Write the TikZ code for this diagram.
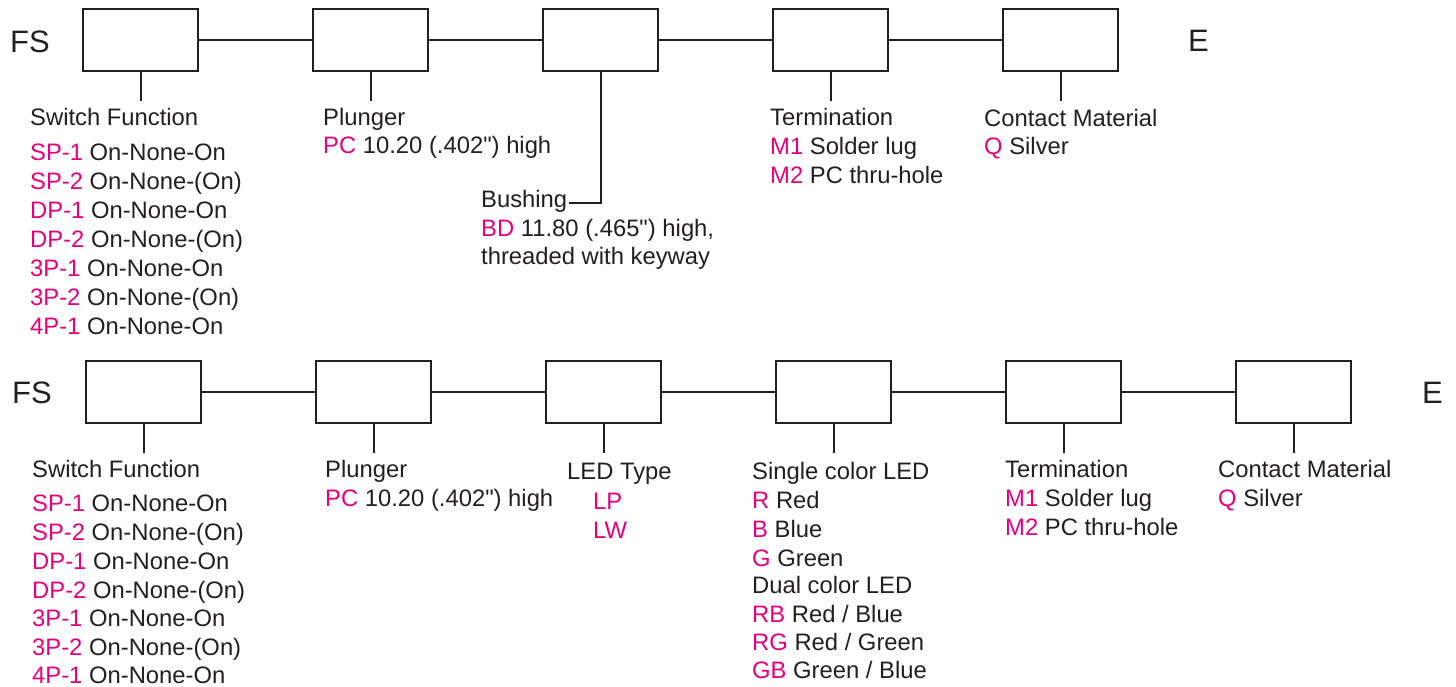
\documentclass[tikz,border=0pt]{standalone}
\usepackage{fontspec}
\newfontfamily\lib{Liberation Sans}
\definecolor{mag}{HTML}{E4007F}
\definecolor{ink}{HTML}{231F20}
\newcommand\pk[2]{\textcolor{mag}{#1} #2}
\tikzset{
  box/.style={draw=ink, line width=2pt, minimum width=115pt, minimum height=62pt, inner sep=0pt},
  wire/.style={draw=ink, line width=2pt},
  lbl/.style={anchor=base west, inner sep=0pt, text=ink, font=\lib\fontsize{23.8}{28}\selectfont},
  big/.style={anchor=base west, inner sep=0pt, text=ink, font=\lib\fontsize{31}{36}\selectfont},
}
\begin{document}
\begin{tikzpicture}[x=1pt,y=1pt]
\useasboundingbox (0,0) rectangle (1456,-686);
% ---------- top row ----------
\node[big] (fs1) at (10,-52) {FS};
\node[big] (e1) at (1188,-51) {E};
\foreach \i/\x in {1/140.5,2/370.5,3/600.5,4/830.5,5/1060.5}
  \node[box] (t\i) at (\x,-40) {};
\draw[wire] (t1) -- (t2) (t2) -- (t3) (t3) -- (t4) (t4) -- (t5);
\coordinate (s1) at (140.5,-101);
\coordinate (s2) at (370.5,-101);
\coordinate (s4) at (830.5,-101);
\coordinate (s5) at (1060.5,-101);
\coordinate (bush) at (569,-203);
\draw[wire] (t1.south) -- (s1);
\draw[wire] (t2.south) -- (s2);
\draw[wire] (t4.south) -- (s4);
\draw[wire] (t5.south) -- (s5);
\draw[wire] (t3.south) |- (bush);
% Switch function
\node[lbl] (sf) at (30,-125) {Switch Function};
\node[lbl] (sf1) at (30,-160) {\pk{SP-1}{On-None-On}};
\node[lbl] (sf2) at (30,-189) {\pk{SP-2}{On-None-(On)}};
\node[lbl] (sf3) at (30,-218) {\pk{DP-1}{On-None-On}};
\node[lbl] (sf4) at (30,-247) {\pk{DP-2}{On-None-(On)}};
\node[lbl] (sf5) at (30,-276) {\pk{3P-1}{On-None-On}};
\node[lbl] (sf6) at (30,-305) {\pk{3P-2}{On-None-(On)}};
\node[lbl] (sf7) at (30,-334) {\pk{4P-1}{On-None-On}};
% Plunger
\node[lbl] (pl) at (323,-125) {Plunger};
\node[lbl] (pl1) at (323,-153) {\pk{PC}{10.20 (.402") high}};
% Bushing
\node[lbl] (bu) at (481,-207) {Bushing};
\node[lbl] (bu1) at (481,-236) {\pk{BD}{11.80 (.465") high,}};
\node[lbl] (bu2) at (481,-264) {threaded with keyway};
% Termination
\node[lbl] (te) at (770,-125) {Termination};
\node[lbl] (te1) at (770,-154) {\pk{M1}{Solder lug}};
\node[lbl] (te2) at (770,-183) {\pk{M2}{PC thru-hole}};
% Contact
\node[lbl] (cm) at (984,-126) {Contact Material};
\node[lbl] (cm1) at (984,-154) {\pk{Q}{Silver}};
% ---------- bottom row ----------
\node[big] (fs2) at (12,-403) {FS};
\node[big] (e2) at (1422,-403) {E};
\foreach \i/\x in {1/143.5,2/373.5,3/603.5,4/833.5,5/1063.5,6/1293.5}
  \node[box] (b\i) at (\x,-391.5) {};
\draw[wire] (b1) -- (b2) (b2) -- (b3) (b3) -- (b4) (b4) -- (b5) (b5) -- (b6);
\foreach \i/\x in {1/143.5,2/373.5,3/603.5,4/833.5,5/1063.5,6/1293.5}{
  \coordinate (bs\i) at (\x,-453);
  \draw[wire] (b\i.south) -- (bs\i);
}
% Switch function
\node[lbl] (bsf) at (32,-477) {Switch Function};
\node[lbl] (bsf1) at (32,-511) {\pk{SP-1}{On-None-On}};
\node[lbl] (bsf2) at (32,-540) {\pk{SP-2}{On-None-(On)}};
\node[lbl] (bsf3) at (32,-569) {\pk{DP-1}{On-None-On}};
\node[lbl] (bsf4) at (32,-598) {\pk{DP-2}{On-None-(On)}};
\node[lbl] (bsf5) at (32,-626) {\pk{3P-1}{On-None-On}};
\node[lbl] (bsf6) at (32,-655) {\pk{3P-2}{On-None-(On)}};
\node[lbl] (bsf7) at (32,-683) {\pk{4P-1}{On-None-On}};
% Plunger
\node[lbl] (bpl) at (325,-477) {Plunger};
\node[lbl] (bpl1) at (325,-506) {\pk{PC}{10.20 (.402") high}};
% LED type
\node[lbl] (led) at (567,-479) {LED Type};
\node[lbl] (led1) at (593,-509) {\textcolor{mag}{LP}};
\node[lbl] (led2) at (593,-538) {\textcolor{mag}{LW}};
% Colour
\node[lbl] (co) at (752,-479) {Single color LED};
\node[lbl] (co1) at (752,-508) {\pk{R}{Red}};
\node[lbl] (co2) at (752,-537) {\pk{B}{Blue}};
\node[lbl] (co3) at (752,-566) {\pk{G}{Green}};
\node[lbl] (co4) at (752,-593) {Dual color LED};
\node[lbl] (co5) at (752,-622) {\pk{RB}{Red / Blue}};
\node[lbl] (co6) at (752,-650) {\pk{RG}{Red / Green}};
\node[lbl] (co7) at (752,-678) {\pk{GB}{Green / Blue}};
% Termination
\node[lbl] (bte) at (1005,-477) {Termination};
\node[lbl] (bte1) at (1005,-506) {\pk{M1}{Solder lug}};
\node[lbl] (bte2) at (1005,-535) {\pk{M2}{PC thru-hole}};
% Contact
\node[lbl] (bcm) at (1218,-477) {Contact Material};
\node[lbl] (bcm1) at (1218,-506) {\pk{Q}{Silver}};
\end{tikzpicture}
\end{document}
